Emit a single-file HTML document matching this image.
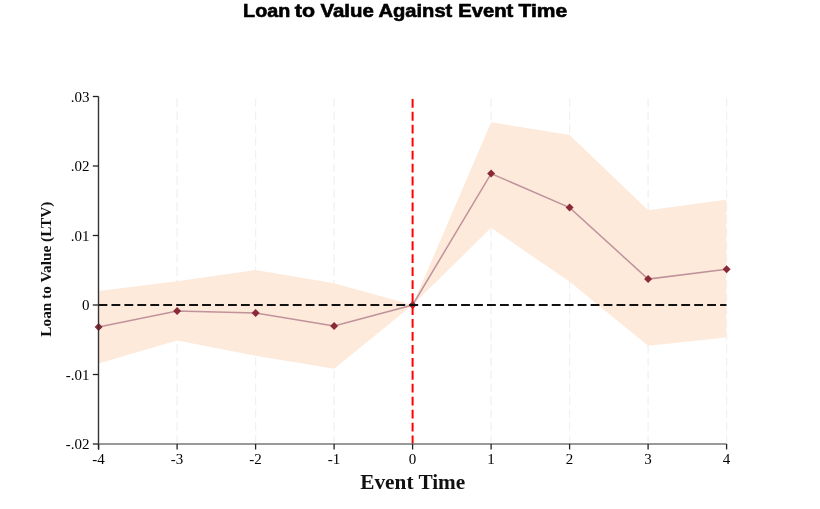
<!DOCTYPE html>
<html><head><meta charset="utf-8"><style>
html,body{margin:0;padding:0;background:#fff;width:820px;height:509px;overflow:hidden}
svg{display:block;will-change:transform}
.grid{stroke:#f1f1f1;stroke-width:1.3;stroke-dasharray:8.8 4.15}
.tk{stroke:#222;stroke-width:1.3}
.tl{font-family:"Liberation Serif",serif;font-size:15px;fill:#000}
.mk{fill:#8a2a36}
.tt{font-family:"Liberation Sans",sans-serif;font-weight:bold;font-size:17.8px;fill:#000;stroke:#000;stroke-width:0.6}
</style></head><body>
<svg width="820" height="509" viewBox="0 0 820 509">
<rect width="820" height="509" fill="#fff"/>
<text x="243.1" y="17" class="tt" textLength="47.1" lengthAdjust="spacingAndGlyphs">Loan</text><text x="294.8" y="17" class="tt" textLength="20.2" lengthAdjust="spacingAndGlyphs">to</text><text x="320.4" y="17" class="tt" textLength="53.4" lengthAdjust="spacingAndGlyphs">Value</text><text x="378.5" y="17" class="tt" textLength="73.8" lengthAdjust="spacingAndGlyphs">Against</text><text x="458.2" y="17" class="tt" textLength="55.1" lengthAdjust="spacingAndGlyphs">Event</text><text x="518.5" y="17" class="tt" textLength="48.7" lengthAdjust="spacingAndGlyphs">Time</text>
<line x1="177.1" y1="98.5" x2="177.1" y2="444" class="grid"/><line x1="255.6" y1="98.5" x2="255.6" y2="444" class="grid"/><line x1="334.1" y1="98.5" x2="334.1" y2="444" class="grid"/><line x1="491.1" y1="98.5" x2="491.1" y2="444" class="grid"/><line x1="569.6" y1="98.5" x2="569.6" y2="444" class="grid"/><line x1="648.1" y1="98.5" x2="648.1" y2="444" class="grid"/><line x1="726.6" y1="98.5" x2="726.6" y2="444" class="grid"/>
<polygon points="98.6,291 177.1,281.3 255.6,270 334.1,283.3 412.6,305 491.1,122.3 569.6,135 648.1,210.3 726.0,199.8 726.0,337.5 648.1,345.7 569.6,281.7 491.1,227.8 412.6,305 334.1,368.7 255.6,355.7 177.1,340.5 98.6,363.5" fill="#fdeadb"/>
<polyline points="98.6,327 177.1,311 255.6,313 334.1,326 412.6,305 491.1,173.6 569.6,207.6 648.1,279.1 726.6,269.2" fill="none" stroke="#c0929b" stroke-width="1.5"/>
<path d="M98.6,323 l4,4 l-4,4 l-4,-4 z" class="mk"/><path d="M177.1,307 l4,4 l-4,4 l-4,-4 z" class="mk"/><path d="M255.6,309 l4,4 l-4,4 l-4,-4 z" class="mk"/><path d="M334.1,322 l4,4 l-4,4 l-4,-4 z" class="mk"/><path d="M412.6,301 l4,4 l-4,4 l-4,-4 z" class="mk"/><path d="M491.1,169.6 l4,4 l-4,4 l-4,-4 z" class="mk"/><path d="M569.6,203.6 l4,4 l-4,4 l-4,-4 z" class="mk"/><path d="M648.1,275.1 l4,4 l-4,4 l-4,-4 z" class="mk"/><path d="M726.6,265.2 l4,4 l-4,4 l-4,-4 z" class="mk"/>
<line x1="98.5" y1="305" x2="726.5" y2="305" stroke="#111" stroke-width="2" stroke-dasharray="8.85 4.1"/>
<line x1="412.6" y1="98.9" x2="412.6" y2="444" stroke="#ff0000" stroke-width="2" stroke-dasharray="8.8 4.15"/>
<line x1="98.5" y1="96.5" x2="98.5" y2="449.5" stroke="#333" stroke-width="1.4"/>
<line x1="98.5" y1="444" x2="726.5" y2="444" stroke="#777" stroke-width="1.6"/>
<line x1="92.8" y1="96.5" x2="98.5" y2="96.5" class="tk"/><line x1="92.8" y1="166" x2="98.5" y2="166" class="tk"/><line x1="92.8" y1="235.5" x2="98.5" y2="235.5" class="tk"/><line x1="92.8" y1="305" x2="98.5" y2="305" class="tk"/><line x1="92.8" y1="374.5" x2="98.5" y2="374.5" class="tk"/><line x1="92.8" y1="444" x2="98.5" y2="444" class="tk"/><line x1="98.6" y1="444" x2="98.6" y2="449.5" class="tk"/><line x1="177.1" y1="444" x2="177.1" y2="449.5" class="tk"/><line x1="255.6" y1="444" x2="255.6" y2="449.5" class="tk"/><line x1="334.1" y1="444" x2="334.1" y2="449.5" class="tk"/><line x1="412.6" y1="444" x2="412.6" y2="449.5" class="tk"/><line x1="491.1" y1="444" x2="491.1" y2="449.5" class="tk"/><line x1="569.6" y1="444" x2="569.6" y2="449.5" class="tk"/><line x1="648.1" y1="444" x2="648.1" y2="449.5" class="tk"/><line x1="726.6" y1="444" x2="726.6" y2="449.5" class="tk"/><text x="89.5" y="101.9" class="tl" text-anchor="end">.03</text><text x="89.5" y="171.4" class="tl" text-anchor="end">.02</text><text x="89.5" y="240.9" class="tl" text-anchor="end">.01</text><text x="89.5" y="310.4" class="tl" text-anchor="end">0</text><text x="89.5" y="379.9" class="tl" text-anchor="end">-.01</text><text x="89.5" y="449.4" class="tl" text-anchor="end">-.02</text><text x="98.6" y="463.5" class="tl" text-anchor="middle">-4</text><text x="177.1" y="463.5" class="tl" text-anchor="middle">-3</text><text x="255.6" y="463.5" class="tl" text-anchor="middle">-2</text><text x="334.1" y="463.5" class="tl" text-anchor="middle">-1</text><text x="412.6" y="463.5" class="tl" text-anchor="middle">0</text><text x="491.1" y="463.5" class="tl" text-anchor="middle">1</text><text x="569.6" y="463.5" class="tl" text-anchor="middle">2</text><text x="648.1" y="463.5" class="tl" text-anchor="middle">3</text><text x="726.6" y="463.5" class="tl" text-anchor="middle">4</text>
<text transform="translate(50.6,269.2) rotate(-90)" text-anchor="middle" style="font-family:'Liberation Serif',serif;font-weight:bold;font-size:15.3px" fill="#111">Loan to Value (LTV)</text>
<text x="360.3" y="489" textLength="105" lengthAdjust="spacingAndGlyphs" style="font-family:'Liberation Serif',serif;font-weight:bold;font-size:22px" fill="#111">Event Time</text>
</svg>
</body></html>
